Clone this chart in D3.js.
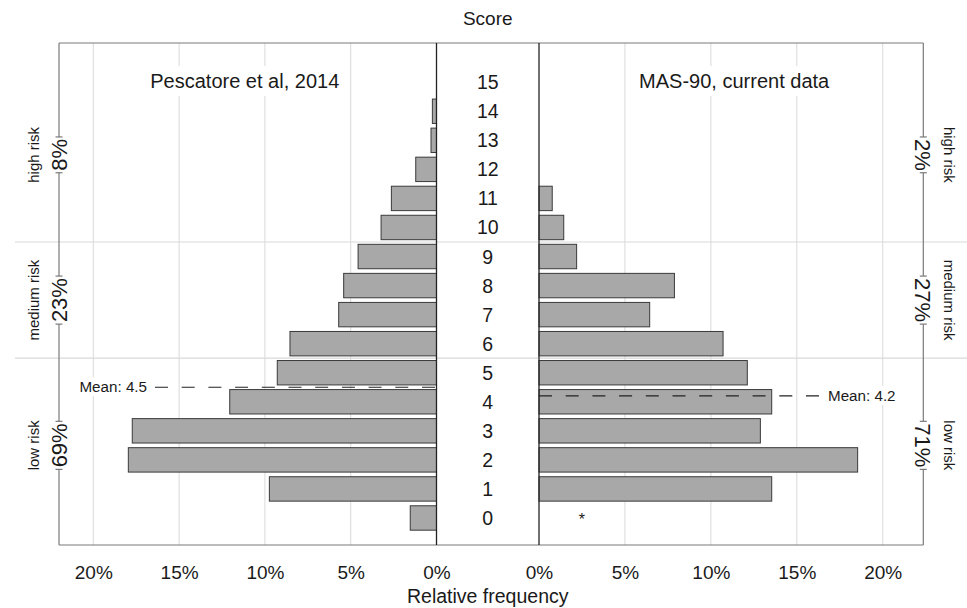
<!DOCTYPE html>
<html>
<head>
<meta charset="utf-8">
<script src="https://cdn.jsdelivr.net/npm/d3@7"></script>
<style>
  html, body { margin: 0; padding: 0; background: #fff; }
  svg { display: block; font-family: "Liberation Sans", Arial, sans-serif; }
</style>
</head>
<body>
<svg id="chart" width="967" height="608"></svg>
<script>
// Score categories (MAS-90 score 0..15)
const scores = [0, 1, 2, 3, 4, 5, 6, 7, 8, 9, 10, 11, 12, 13, 14, 15];

// Relative frequency (%) per score
const pescatore = [1.53, 9.74, 17.96, 17.73, 12.05, 9.28, 8.54, 5.70, 5.41, 4.57, 3.23, 2.63, 1.21, 0.32, 0.24, 0];
const currentData = [null, 13.54, 18.54, 12.88, 13.54, 12.12, 10.71, 6.44, 7.88, 2.19, 1.44, 0.77, 0, 0, 0, 0];

// Means of each distribution
const meanLeft = 4.5;
const meanRight = 4.2;

// Risk groups: score ranges and share of each sample
const riskNames = ["low risk", "medium risk", "high risk"];
const riskFrom = [0, 6, 10];
const riskTo = [5, 9, 15];
const riskLeft = ["69%", "23%", "8%"];
const riskRight = ["71%", "27%", "2%"];

// Axis ticks
const tickValues = [0, 5, 10, 15, 20];
const panelTitles = ["Pescatore et al, 2014", "MAS-90, current data"];

const svg = d3.select("#chart");
const plotTop = 43, plotBottom = 545;

const y = d3.scaleLinear().domain([-0.93, 16.35]).range([plotBottom, plotTop]);
const xL = d3.scaleLinear().domain([0, 22]).range([436.5, 59]);
const xR = d3.scaleLinear().domain([0, 22.36]).range([539, 923.3]);
const pitch = Math.abs(y(1) - y(0));
const barH = pitch * 0.84;
const midX = (xL(0) + xR(0)) / 2;

const gridColor = "#d9d9d9";
const frameColor = "#7a7a7a";
const ink = "#1a1a1a";

// vertical gridlines
[xL, xR].forEach(x => {
  svg.append("g").selectAll("line").data(tickValues.filter(d => d > 0)).join("line")
    .attr("x1", d => x(d)).attr("x2", d => x(d))
    .attr("y1", plotTop).attr("y2", plotBottom)
    .attr("stroke", gridColor).attr("stroke-width", 1);
});

// horizontal risk-group separators
const seps = [riskFrom[1] - 0.5, riskFrom[2] - 0.5];
svg.append("g").selectAll("line").data(seps).join("line")
  .attr("x1", 15).attr("x2", 967)
  .attr("y1", d => y(d)).attr("y2", d => y(d))
  .attr("stroke", gridColor).attr("stroke-width", 1.2);

// bars, left side
svg.append("g").selectAll("rect").data(scores.filter(s => pescatore[s] > 0)).join("rect")
  .attr("x", s => xL(pescatore[s]))
  .attr("width", s => xL(0) - xL(pescatore[s]))
  .attr("y", s => y(s) - barH / 2)
  .attr("height", barH)
  .attr("fill", "#a8a8a8").attr("stroke", "#3a3a3a").attr("stroke-width", 1);

// bars, right side
svg.append("g").selectAll("rect").data(scores.filter(s => currentData[s] > 0)).join("rect")
  .attr("x", xR(0))
  .attr("width", s => xR(currentData[s]) - xR(0))
  .attr("y", s => y(s) - barH / 2)
  .attr("height", barH)
  .attr("fill", "#a8a8a8").attr("stroke", "#3a3a3a").attr("stroke-width", 1);

// missing value marker
scores.filter(s => currentData[s] === null).forEach(s => {
  svg.append("text").attr("x", xR(2.5)).attr("y", y(s) + 2)
    .attr("text-anchor", "middle").attr("dominant-baseline", "central")
    .attr("font-size", 16).attr("fill", ink).text("*");
});

// frame
const xMinL = xL(22), xMaxR = xR(22.36);
svg.append("line").attr("x1", xMinL).attr("x2", xMaxR).attr("y1", plotTop).attr("y2", plotTop)
  .attr("stroke", frameColor).attr("stroke-width", 1.2);
svg.append("line").attr("x1", xMinL).attr("x2", xMaxR).attr("y1", plotBottom).attr("y2", plotBottom)
  .attr("stroke", frameColor).attr("stroke-width", 1.2);
svg.append("line").attr("x1", xMinL).attr("x2", xMinL).attr("y1", plotTop).attr("y2", plotBottom)
  .attr("stroke", frameColor).attr("stroke-width", 1.2);
svg.append("line").attr("x1", xMaxR).attr("x2", xMaxR).attr("y1", plotTop).attr("y2", plotBottom)
  .attr("stroke", frameColor).attr("stroke-width", 1.2);
// zero lines
[xL(0), xR(0)].forEach(x0 => {
  svg.append("line").attr("x1", x0).attr("x2", x0).attr("y1", plotTop).attr("y2", plotBottom)
    .attr("stroke", "#222").attr("stroke-width", 1.3);
});

// mean lines
svg.append("line").attr("x1", 155).attr("x2", xL(0))
  .attr("y1", y(meanLeft)).attr("y2", y(meanLeft))
  .attr("stroke", "#222").attr("stroke-width", 1.2).attr("stroke-dasharray", "13,13.7");
svg.append("line").attr("x1", xR(0)).attr("x2", 821)
  .attr("y1", y(meanRight)).attr("y2", y(meanRight))
  .attr("stroke", "#222").attr("stroke-width", 1.2).attr("stroke-dasharray", "13,13.7");

// text with a white box behind it
function boxedText(parent, opts) {
  const g = parent.append("g").attr("transform", opts.transform || null);
  const rect = g.append("rect").attr("fill", "#fff");
  const t = g.append("text")
    .attr("x", opts.x || 0).attr("y", opts.y || 0)
    .attr("text-anchor", opts.anchor || "middle")
    .attr("dy", opts.dy || null)
    .attr("font-size", opts.size).attr("fill", ink).text(opts.text);
  const b = t.node().getBBox();
  const px = opts.padX == null ? 3 : opts.padX, py = opts.padY == null ? 2 : opts.padY;
  rect.attr("x", b.x - px).attr("y", b.y - py)
    .attr("width", b.width + 2 * px).attr("height", b.height + 2 * py);
  return { g, b, px, py };
}

// panel titles
boxedText(svg, { x: (xL(0) + xMinL) / 2 - 3, y: 88, size: 20, text: panelTitles[0], padX: 4, padY: 4 });
boxedText(svg, { x: (xR(0) + xMaxR) / 2 + 3, y: 88, size: 20, text: panelTitles[1], padX: 4, padY: 4 });

// mean labels
boxedText(svg, { x: 147, y: y(meanLeft) + 5, anchor: "end", size: 15.2, text: "Mean: " + meanLeft, padX: 2, padY: 1 });
boxedText(svg, { x: 828, y: y(meanRight) + 5, anchor: "start", size: 15.2, text: "Mean: " + meanRight, padX: 2, padY: 1 });

// score labels in the centre column
svg.append("g").selectAll("text").data(scores).join("text")
  .attr("x", midX).attr("y", s => y(s))
  .attr("text-anchor", "middle").attr("dominant-baseline", "central")
  .attr("font-size", 19.5).attr("fill", ink).text(s => s);

// risk-group labels on both frame sides
riskNames.forEach((name, i) => {
  const cy = y((riskFrom[i] + riskTo[i]) / 2);
  const frames = [
    { x: xMinL, rot: -90, share: riskLeft[i], nameX: 33.5 },
    { x: xMaxR, rot: 90, share: riskRight[i], nameX: 949 }
  ];
  frames.forEach(f => {
    const r = boxedText(svg, {
      transform: `translate(${f.x},${cy}) rotate(${f.rot})`,
      dy: "0.36em", size: 22, text: f.share, padX: 2, padY: 0
    });
    // short end strokes where the frame line is interrupted
    const half = r.b.width / 2 + r.px;
    [cy - half, cy + half].forEach(yy => {
      svg.append("line").attr("x1", f.x - 3.5).attr("x2", f.x + 3.5)
        .attr("y1", yy).attr("y2", yy).attr("stroke", frameColor).attr("stroke-width", 1.2);
    });
    svg.append("text")
      .attr("transform", `translate(${f.nameX},${cy}) rotate(${f.rot})`)
      .attr("text-anchor", "middle").attr("dy", "0.35em")
      .attr("font-size", 15).attr("fill", ink).text(name);
  });
});

// bottom axes
const fmt = d => d + "%";
[xL, xR].forEach(x => {
  const ax = svg.append("g").attr("transform", `translate(0,${plotBottom})`)
    .call(d3.axisBottom(x).tickValues(tickValues).tickFormat(fmt).tickSize(0).tickPadding(21));
  ax.select(".domain").remove();
  ax.selectAll("text").attr("font-size", 19).attr("fill", ink)
    .attr("font-family", "Liberation Sans, Arial, sans-serif");
});

// axis titles
svg.append("text").attr("x", midX).attr("y", 25).attr("text-anchor", "middle")
  .attr("font-size", 19).attr("fill", ink).text("Score");
svg.append("text").attr("x", midX).attr("y", 603).attr("text-anchor", "middle")
  .attr("font-size", 19.5).attr("fill", ink).text("Relative frequency");
</script>
</body>
</html>
